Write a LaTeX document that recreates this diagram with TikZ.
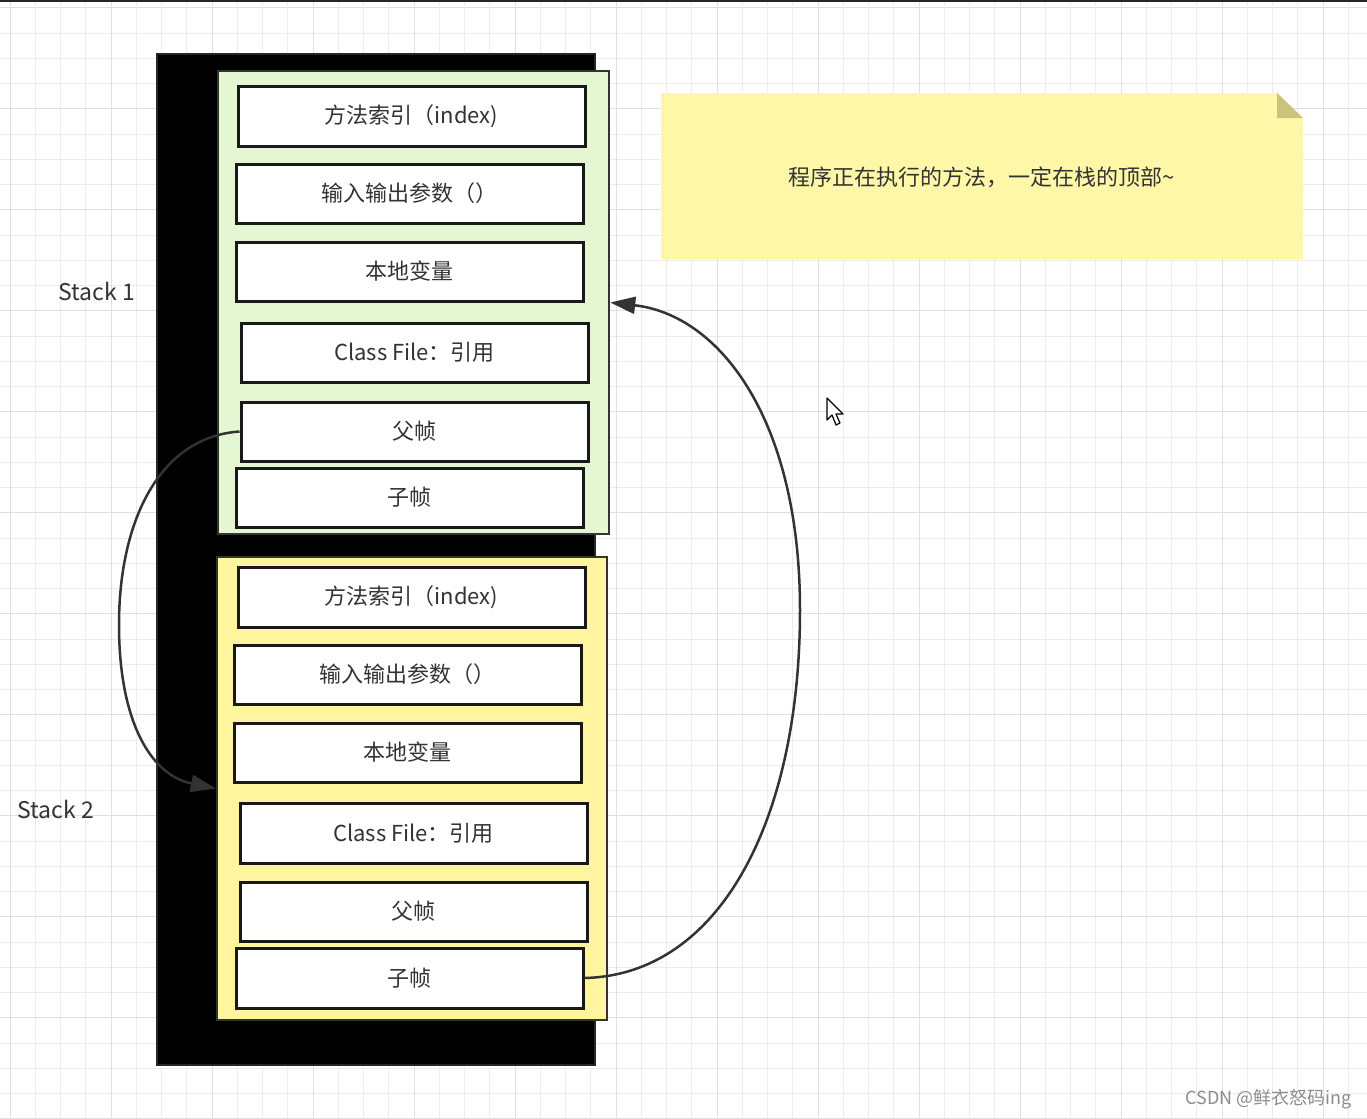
\documentclass[tikz,border=0pt]{standalone}
\usepackage{fontspec}
\setmainfont{Noto Sans CJK SC}
\usetikzlibrary{arrows.meta}
\definecolor{gridc}{HTML}{ECECEC}
\definecolor{gridm}{HTML}{E0E0E0}
\definecolor{greenf}{HTML}{E4F6D2}
\definecolor{yellowf}{HTML}{FFF59E}
\definecolor{notef}{HTML}{FFF7A8}
\definecolor{foldc}{HTML}{CBC37B}
\definecolor{edgec}{HTML}{333333}
\definecolor{txtc}{HTML}{333333}
\newcommand\pbox[7][]{\node[#1,minimum width={(#5-#3)*0.5pt},minimum height={(#6-#4)*0.5pt}] (#2) at ({(#3+#5)/2},{(#4+#6)/2}) {#7};}
\tikzset{
  framebox/.style={draw=edgec,line width=1.25pt,inner sep=0pt},
  cell/.style={draw=black!90,fill=white,line width=1.5pt,inner sep=0pt,text=txtc,font=\fontsize{11}{13}\selectfont},
  link/.style={draw=edgec,line width=1.25pt,-{Triangle[length=12.5pt,width=8.5pt]}},
  lbl/.style={text=txtc,font=\fontsize{11.5}{13}\selectfont,inner sep=0pt}
}
\begin{document}
\begin{tikzpicture}[x=0.5pt,y=-0.5pt]
\useasboundingbox (0,0) rectangle (1367,1119);
\fill[white] (0,0) rectangle (1367,1119);
% grid
\foreach \i in {0,...,54}{\draw[gridc,line width=0.5pt] ({10+25.25*\i},0) -- ({10+25.25*\i},1119);}
\foreach \j in {0,...,44}{\draw[gridc,line width=0.5pt] (0,{7.75+25.25*\j}) -- (1367,{7.75+25.25*\j});}
\foreach \i in {0,...,13}{\draw[gridm,line width=0.5pt] ({10+101*\i},0) -- ({10+101*\i},1119);}
\foreach \j in {0,...,11}{\draw[gridm,line width=0.5pt] (0,{7.75+101*\j}) -- (1367,{7.75+101*\j});}
\draw[black!85,line width=0.8pt] (0,0.8) -- (1367,0.8);
% black stack frame
\pbox[framebox,fill=black,draw=black!85]{frame}{157}{54}{595}{1065}{}
% stack 1
\pbox[framebox,fill=greenf]{s1}{218}{71}{609}{534}{}
\pbox[cell]{a1}{238}{86}{585}{146}{方法索引（index)}
\pbox[cell]{a2}{236}{164}{583}{223}{输入输出参数（）}
\pbox[cell]{a3}{236}{242}{583}{301}{本地变量}
\pbox[cell]{a4}{241}{323}{588}{382}{Class File：引用}
\pbox[cell]{a5}{241}{402}{588}{461}{父帧}
\pbox[cell]{a6}{236}{468}{583}{527}{子帧}
% stack 2
\pbox[framebox,fill=yellowf]{s2}{217}{557}{607}{1020}{}
\pbox[cell]{b1}{238}{567}{585}{627}{方法索引（index)}
\pbox[cell]{b2}{234}{645}{581}{704}{输入输出参数（）}
\pbox[cell]{b3}{234}{723}{581}{782}{本地变量}
\pbox[cell]{b4}{240}{803}{587}{863}{Class File：引用}
\pbox[cell]{b5}{240}{882}{587}{941}{父帧}
\pbox[cell]{b6}{236}{948}{583}{1008}{子帧}
% labels
\node[lbl,anchor=west] (l1) at (58,291) {Stack 1};
\node[lbl,anchor=west] (l2) at (17,809) {Stack 2};
% note
\fill[notef] (661,93) -- (1277,93) -- (1303,118) -- (1303,259) -- (661,259) -- cycle;
\fill[foldc] (1277,93) -- (1277,118) -- (1303,118) -- cycle;
\node[lbl,font=\fontsize{11}{13}\selectfont] (note) at (982,177) {程序正在执行的方法，一定在栈的顶部\textasciitilde};
% connectors
\draw[link] (a5.west) .. controls (160,437) and (119,520) .. (119,625)
  .. controls (119,720) and (150,775) .. (s2.west);
\draw[link] (b6.east) .. controls (720,975) and (800,820) .. (800,610)
  .. controls (800,420) and (720,315) .. (s1.east);
% cursor
\draw[black,fill=white,line width=0.6pt,line join=round] (827,398) -- (827,420) -- (832,415) -- (836,425) -- (840,423) -- (836,414) -- (843,414) -- cycle;
% watermark
\node[text=black!45,font=\fontsize{9}{11}\selectfont,anchor=east,inner sep=0pt] (wm) at (1352,1099) {CSDN @鲜衣怒码ing};
\end{tikzpicture}
\end{document}
